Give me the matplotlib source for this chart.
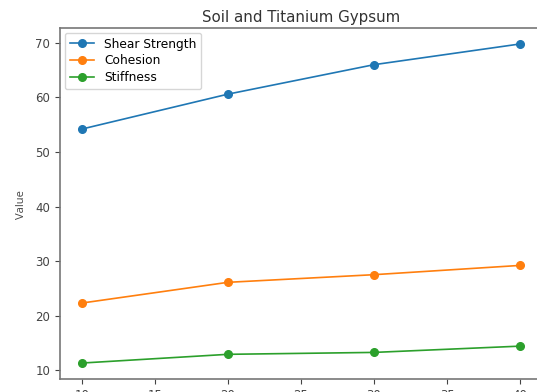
import matplotlib
matplotlib.use("Agg")
import matplotlib.pyplot as plt

x = [10, 20, 30, 40]
shear_strength = [54.2, 60.6, 66.0, 69.8]
cohesion = [22.3, 26.1, 27.5, 29.2]
stiffness = [11.3, 12.9, 13.25, 14.4]
labels = ["Shear Strength", "Cohesion", "Stiffness"]
title = "Soil and Titanium Gypsum"

fig = plt.figure(figsize=(5.37, 3.92), dpi=100)
ax = fig.add_axes([60/537, 13/392, 482/537, 351/392])
for vals, lab in zip([shear_strength, cohesion, stiffness], labels):
    ax.plot(x, vals, marker="o", markersize=5.5, linewidth=1.2, label=lab)

ax.set_title(title, fontsize=10.8, color="#333333", pad=4)
ax.set_yticks([10, 20, 30, 40, 50, 60, 70])
ax.set_xticks([10, 15, 20, 25, 30, 35, 40])
ax.tick_params(labelsize=8.5, colors="#444444")
for sp in ax.spines.values():
    sp.set_color("#777777")
    sp.set_linewidth(1.2)
fig.text(21/537, 1 - 205/392, "Value", rotation=90, ha="center", va="center",
         fontsize=8, family="Open Sans", color="#444444")
ax.legend(loc="upper left", fontsize=8.8, frameon=True, handlelength=2.0,
          labelspacing=0.3, borderaxespad=0.4)
fig.savefig("out.png", dpi=100)
